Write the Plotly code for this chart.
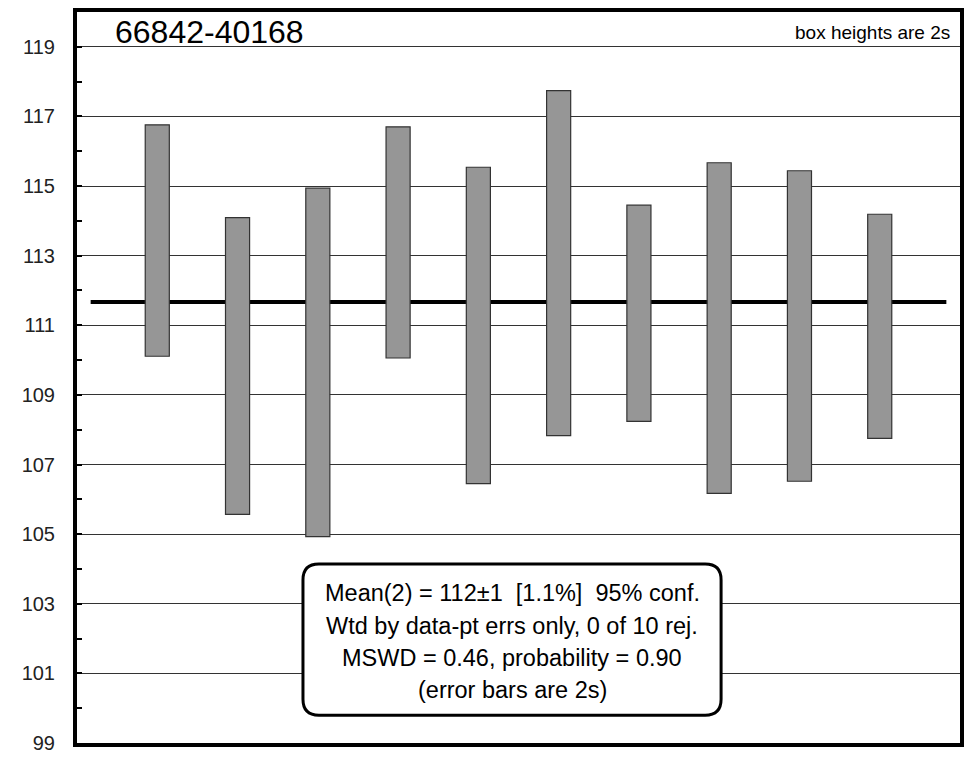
import plotly.graph_objects as go

# ---- data ----
sample_label = "66842-40168"
box_note = "box heights are 2s"
spot_index = [1, 2, 3, 4, 5, 6, 7, 8, 9, 10]
box_top = [116.76, 114.09, 114.94, 116.70, 115.54, 117.74, 114.45, 115.67, 115.44, 114.19]
box_bottom = [110.11, 105.57, 104.93, 110.06, 106.45, 107.83, 108.24, 106.17, 106.52, 107.75]
weighted_mean = 111.67
mean_span = [0.17, 10.83]
y_tick_vals = [99, 101, 103, 105, 107, 109, 111, 113, 115, 117, 119]
y_tick_text = [str(v) for v in y_tick_vals]
y_minor_vals = [100, 102, 104, 106, 108, 110, 112, 114, 116, 118]
stats_lines = [
    "Mean(2) = 112±1  [1.1%]  95% conf.",
    "Wtd by data-pt errs only, 0 of 10 rej.",
    "MSWD = 0.46, probability = 0.90",
    "(error bars are 2s)",
]

W, H = 972, 767
ML, MR, MT, MB = 77, 8, 8, 24
PW, PH = W - ML - MR, H - MT - MB


def px_x(p):
    return (p - ML) / PW


def px_y(p):
    return (H - MB - p) / PH


FONT = "Liberation Sans, Arial, sans-serif"

fig = go.Figure()
fig.add_trace(go.Bar(
    x=spot_index,
    y=[t - b for t, b in zip(box_top, box_bottom)],
    base=box_bottom,
    width=0.30,
    marker=dict(color="#969696", line=dict(color="#333333", width=1.2)),
    showlegend=False,
    hoverinfo="skip",
))

shapes = []
# mean line (between gridlines and bars)
shapes.append(dict(type="line", xref="x", yref="y", layer="between",
                   x0=mean_span[0], x1=mean_span[1], y0=weighted_mean, y1=weighted_mean,
                   line=dict(color="black", width=4)))

# rounded stats box
bx0, bx1, by0, by1, r = 304, 724, 563, 715, 16
X = lambda p: px_x(p)
Y = lambda p: px_y(p)
path = (
    f"M {X(bx0 + r)} {Y(by0)} L {X(bx1 - r)} {Y(by0)} "
    f"Q {X(bx1)} {Y(by0)} {X(bx1)} {Y(by0 + r)} "
    f"L {X(bx1)} {Y(by1 - r)} Q {X(bx1)} {Y(by1)} {X(bx1 - r)} {Y(by1)} "
    f"L {X(bx0 + r)} {Y(by1)} Q {X(bx0)} {Y(by1)} {X(bx0)} {Y(by1 - r)} "
    f"L {X(bx0)} {Y(by0 + r)} Q {X(bx0)} {Y(by0)} {X(bx0 + r)} {Y(by0)} Z"
)
shapes.append(dict(type="path", xref="paper", yref="paper", path=path, layer="above",
                   fillcolor="white", line=dict(color="black", width=3)))

annotations = [
    dict(text=sample_label, xref="paper", yref="paper", x=px_x(113), y=px_y(28),
         xanchor="left", yanchor="middle", showarrow=False,
         font=dict(family=FONT, size=32, color="black")),
    dict(text=box_note, xref="paper", yref="paper", x=px_x(956), y=px_y(29),
         xanchor="right", yanchor="middle", showarrow=False,
         font=dict(family=FONT, size=19, color="black")),
]
line_y = [592, 625, 658, 690]
for txt, yy in zip(stats_lines, line_y):
    annotations.append(dict(text=txt, xref="paper", yref="paper", x=px_x(514), y=px_y(yy),
                            xanchor="center", yanchor="middle", showarrow=False,
                            font=dict(family=FONT, size=23.5, color="black")))

fig.update_layout(
    width=W, height=H,
    margin=dict(l=ML, r=MR, t=MT, b=MB),
    paper_bgcolor="white", plot_bgcolor="white",
    shapes=shapes, annotations=annotations,
    showlegend=False,
    xaxis=dict(range=[0, 11], showgrid=False, zeroline=False, showticklabels=False,
               ticks="", showline=True, linecolor="black", linewidth=4, mirror=True),
    yaxis=dict(range=[99, 120], tickmode="array", tickvals=y_tick_vals, ticktext=y_tick_text,
               showgrid=True, gridcolor="#333333", gridwidth=1, zeroline=False,
               ticks="inside", ticklen=5, tickwidth=2, tickcolor="black",
               minor=dict(tickmode="array", tickvals=y_minor_vals,
                          ticks="inside", ticklen=5, tickwidth=2, tickcolor="black", showgrid=False),
               showline=True, linecolor="black", linewidth=4, mirror=True,
               tickfont=dict(family=FONT, size=20, color="#222222"), ticklabelstandoff=14),
)

fig.write_html("out.html", config={"displayModeBar": False},
               post_script="document.body.style.margin='0';document.body.style.overflow='hidden';")
